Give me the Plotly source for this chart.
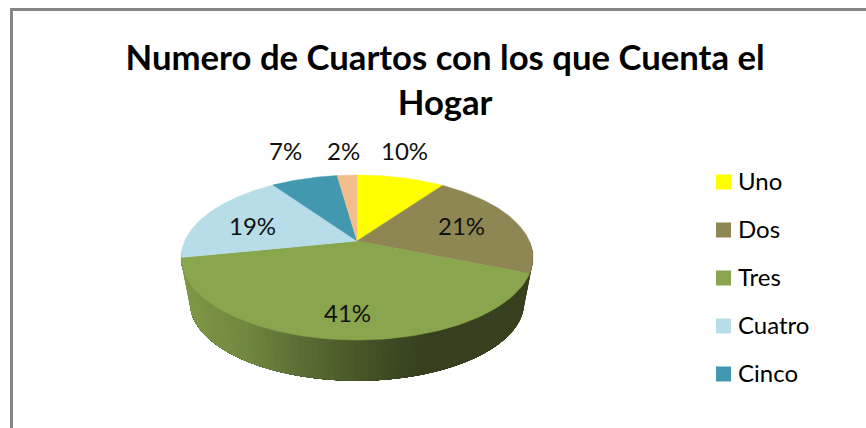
import numpy as np
import plotly.graph_objects as go

categories = ["Uno", "Dos", "Tres", "Cuatro", "Cinco", "Seis"]
values = [9.8, 21.4, 40.6, 18.6, 7.4, 2.2]
colors = ["#FFFF00", "#8F8753", "#89A54E", "#B7DDE8", "#4198AF", "#F4BE8C"]
title_text = "Numero de Cuartos con los que Cuenta el<br>Hogar"

# the excel 3d pie is a tilted disc, so project it by hand (pixel space)
CX, CY = 357, 241
A, B, P = 172.4, 79.2, 0.2
DEPTH, SHRINK = 45.7, 0.95
FONT = "Lato"

label_pos = {"Uno": (404, 150), "Dos": (461, 225), "Tres": (347, 312),
             "Cuatro": (252, 225), "Cinco": (285, 150), "Seis": (343, 150)}
LEGEND_X, LEGEND_TEXT_X, LEGEND_Y, LEGEND_STEP = 723.5, 736, 182, 48


def project(theta, r=1.0, lower=False):
    u = r * np.sin(theta)
    v = r * np.cos(theta)
    w = 1 + P * v
    x = A * u / w
    y = -B * v / w
    if lower:
        return CX + SHRINK * x, CY + DEPTH + SHRINK * y
    return CX + x, CY + y


def side_color(x):
    # light at the left, darkest towards the right
    stops_x = [182, 250, 300, 340, 400, 430, 533]
    stops_c = [[128, 153, 72], [112, 135, 62], [92, 112, 52], [78, 95, 44],
               [60, 72, 34], [54, 63, 30], [56, 64, 31]]
    rgb = [np.interp(x, stops_x, [c[i] for c in stops_c]) for i in range(3)]
    return "rgb({:.0f},{:.0f},{:.0f})".format(*rgb)


fig = go.Figure()

# side wall: every strip runs to the far end and paints over the last one, no seams
edges = np.cumsum([0] + values) / sum(values) * 2 * np.pi
strips = np.linspace(np.radians(90), np.radians(262), 90)
for t0 in strips[:-1]:
    ts = np.linspace(t0, strips[-1], 60)
    x_top, y_top = project(ts)
    x_low, y_low = project(ts[::-1], lower=True)
    col = side_color((x_top[0] + x_low[-1]) / 2)
    fig.add_trace(go.Scatter(
        x=np.r_[x_top, x_low], y=np.r_[y_top, y_low],
        mode="lines", fill="toself", fillcolor=col,
        line=dict(color=col, width=0),
        hoverinfo="skip", showlegend=False,
    ))

# top face
for i, cat in enumerate(categories):
    ts = np.linspace(edges[i], edges[i + 1], 80)
    x_arc, y_arc = project(ts)
    fig.add_trace(go.Scatter(
        x=np.r_[CX, x_arc, CX], y=np.r_[CY, y_arc, CY],
        mode="lines", fill="toself", fillcolor=colors[i],
        line=dict(color=colors[i], width=0.5),
        name=cat, showlegend=False,
    ))

# legend only has five rows in the reference, the last one is cut off
for i, cat in enumerate(categories[:5]):
    row_y = LEGEND_Y + i * LEGEND_STEP
    fig.add_trace(go.Scatter(
        x=[LEGEND_X], y=[row_y], mode="markers",
        marker=dict(symbol="square", size=15, color=colors[i]),
        name=cat, showlegend=False, hoverinfo="skip",
    ))
    fig.add_annotation(
        x=LEGEND_TEXT_X, y=row_y - 1.5, xanchor="left", text=cat, showarrow=False,
        font=dict(family=FONT, size=24, color="black"),
    )

for i, cat in enumerate(categories):
    x, y = label_pos[cat]
    fig.add_annotation(
        x=x, y=y, text="{:.0f}%".format(values[i]), showarrow=False,
        font=dict(family=FONT, size=24, color="#111111"),
    )

fig.update_layout(
    width=866, height=428,
    margin=dict(l=0, r=0, t=0, b=0),
    paper_bgcolor="white", plot_bgcolor="white",
    font=dict(family=FONT),
    showlegend=False,
    title=dict(text=title_text, x=0.514, xanchor="center", y=0.837, yanchor="middle",
               font=dict(family=FONT, size=34.7, color="black", weight="bold")),
    shapes=[dict(type="rect", xref="paper", yref="paper",
                 x0=11.5 / 866, x1=1.05, y0=-0.05, y1=1 - 9.5 / 428,
                 line=dict(color="#868686", width=3))],
)
fig.update_xaxes(range=[0, 866], visible=False, fixedrange=True)
fig.update_yaxes(range=[428, 0], visible=False, fixedrange=True)

fig.write_html("out.html", config=dict(displayModeBar=False),
               post_script="document.body.style.margin = '0';")
